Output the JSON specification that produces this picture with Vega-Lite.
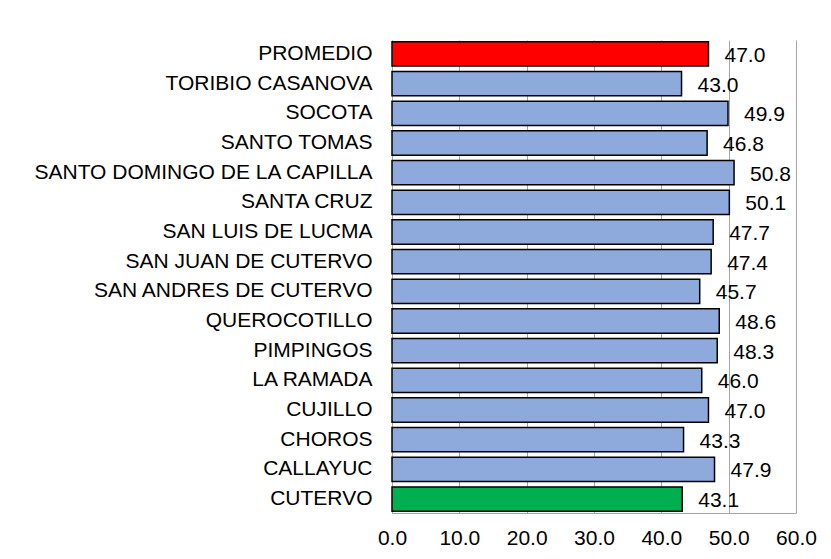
{
  "$schema": "https://vega.github.io/schema/vega-lite/v6.json",
  "width": 404,
  "height": 473,
  "autosize": {"type": "none"},
  "padding": {"left": 392, "top": 40, "right": 35, "bottom": 46},
  "background": "white",
  "config": {
    "view": {"stroke": null},
    "font": "Liberation Sans"
  },
  "data": {
    "values": [
      {"distrito": "PROMEDIO", "valor": 47.0, "tipo": "promedio"},
      {"distrito": "TORIBIO CASANOVA", "valor": 43.0, "tipo": "distrito"},
      {"distrito": "SOCOTA", "valor": 49.9, "tipo": "distrito"},
      {"distrito": "SANTO TOMAS", "valor": 46.8, "tipo": "distrito"},
      {"distrito": "SANTO DOMINGO DE LA CAPILLA", "valor": 50.8, "tipo": "distrito"},
      {"distrito": "SANTA CRUZ", "valor": 50.1, "tipo": "distrito"},
      {"distrito": "SAN LUIS DE LUCMA", "valor": 47.7, "tipo": "distrito"},
      {"distrito": "SAN JUAN DE CUTERVO", "valor": 47.4, "tipo": "distrito"},
      {"distrito": "SAN ANDRES DE CUTERVO", "valor": 45.7, "tipo": "distrito"},
      {"distrito": "QUEROCOTILLO", "valor": 48.6, "tipo": "distrito"},
      {"distrito": "PIMPINGOS", "valor": 48.3, "tipo": "distrito"},
      {"distrito": "LA RAMADA", "valor": 46.0, "tipo": "distrito"},
      {"distrito": "CUJILLO", "valor": 47.0, "tipo": "distrito"},
      {"distrito": "CHOROS", "valor": 43.3, "tipo": "distrito"},
      {"distrito": "CALLAYUC", "valor": 47.9, "tipo": "distrito"},
      {"distrito": "CUTERVO", "valor": 43.1, "tipo": "provincia"}
    ]
  },
  "encoding": {
    "y": {
      "field": "distrito",
      "type": "nominal",
      "sort": null,
      "title": null,
      "scale": {"paddingInner": 0.18, "paddingOuter": 0.06},
      "axis": {
        "ticks": false,
        "domain": true,
        "domainColor": "#A6A6A6",
        "domainWidth": 1,
        "labelFont": "Liberation Sans",
        "labelFontSize": 21,
        "labelColor": "#000000",
        "labelPadding": 20,
        "labelLimit": 400
      }
    },
    "x": {
      "field": "valor",
      "type": "quantitative",
      "title": null,
      "scale": {"domain": [0, 60], "nice": false},
      "axis": {
        "values": [0, 10, 20, 30, 40, 50, 60],
        "format": ".1f",
        "grid": true,
        "gridColor": "#A6A6A6",
        "gridWidth": 1,
        "domainColor": "#A6A6A6",
        "domainWidth": 1,
        "ticks": false,
        "labelFont": "Liberation Sans",
        "labelFontSize": 21,
        "labelColor": "#000000",
        "labelPadding": 14,
        "labelFlush": false
      }
    }
  },
  "layer": [
    {
      "mark": {"type": "bar", "stroke": "#000000", "strokeWidth": 1.5},
      "encoding": {
        "color": {
          "field": "tipo",
          "type": "nominal",
          "scale": {"domain": ["promedio", "distrito", "provincia"], "range": ["#FF0000", "#8EA9DB", "#00B050"]},
          "legend": null
        }
      }
    },
    {
      "mark": {"type": "text", "align": "left", "baseline": "middle", "dx": 16, "dy": 2, "fontSize": 21, "font": "Liberation Sans", "color": "#000000"},
      "encoding": {
        "text": {"field": "valor", "type": "quantitative", "format": ".1f"}
      }
    }
  ]
}
